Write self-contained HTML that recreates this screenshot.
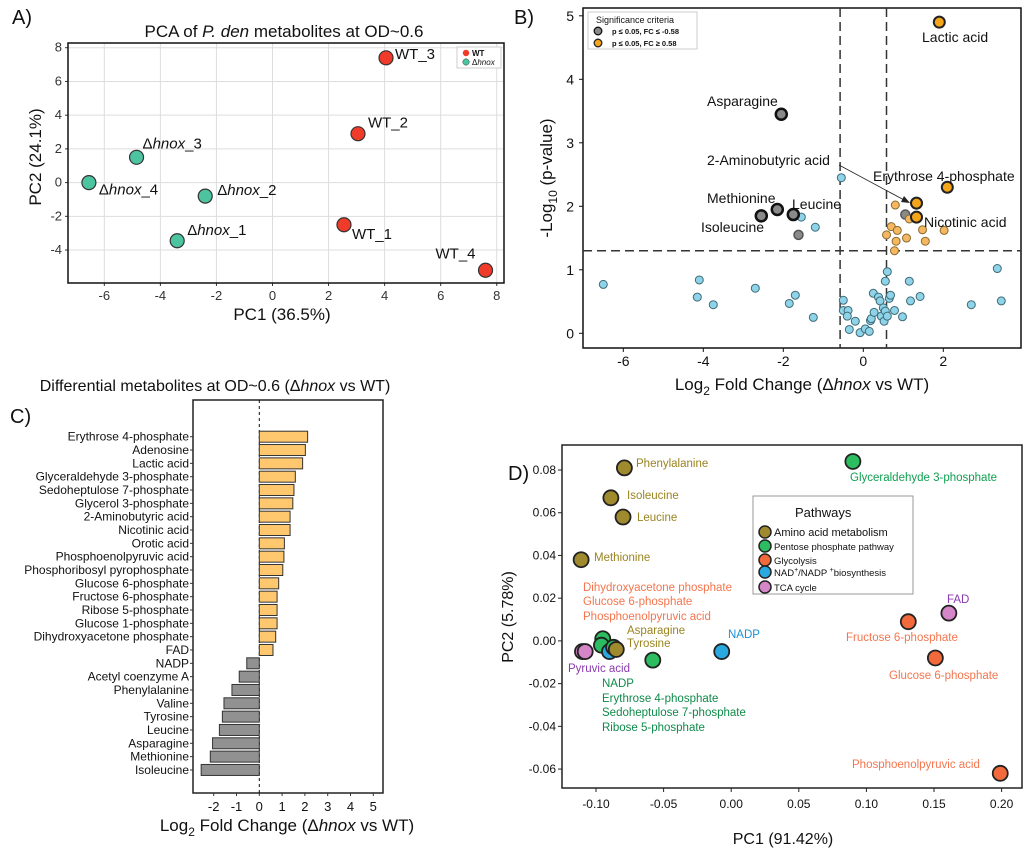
<!DOCTYPE html>
<html><head><meta charset="utf-8">
<style>
body{margin:0;background:#fff;width:1024px;height:850px;overflow:hidden;font-family:"Liberation Sans",sans-serif}
svg{position:absolute;left:0;top:0}
text{font-family:"Liberation Sans","DejaVu Sans",sans-serif}
</style></head>
<body>
<svg id="fig" width="1024" height="850" viewBox="0 0 1024 850"></svg>
<script>
// ---------- Panel A data ----------
const pcaNames=["WT_1","WT_2","WT_3","WT_4","hnox_1","hnox_2","hnox_3","hnox_4"];
const pcaPC1=[2.55,3.05,4.05,7.6,-3.4,-2.4,-4.85,-6.55];
const pcaPC2=[-2.5,2.9,7.4,-5.2,-3.45,-0.8,1.5,0];
const pcaGroup=["WT","WT","WT","WT","hnox","hnox","hnox","hnox"];
const pcaXTicks=[-6,-4,-2,0,2,4,6,8];
const pcaYTicks=[-4,-2,0,2,4,6,8];
// ---------- Panel B data ----------
const volFC=[-2.05,-2.15,-2.55,-1.75,-1.62,1.05,1.9,2.1,1.33,1.33,0.8,0.7,0.85,0.58,0.82,1.08,1.48,1.55,2.02,0.78,1.15,-0.55,-1.55,-1.2,-6.5,-4.1,-4.15,-3.75,-2.7,-1.7,-1.85,-1.25,-0.5,-0.5,-0.38,-0.4,-0.35,-0.2,-0.08,0.05,0.15,0.18,0.2,0.25,0.27,0.38,0.42,0.45,0.5,0.55,0.52,0.55,0.6,0.6,0.65,0.68,0.78,0.98,1.15,1.18,1.42,2.7,3.35,3.45];
const volP=[3.45,1.95,1.85,1.87,1.55,1.87,4.9,2.3,2.05,1.83,2.02,1.68,1.62,1.55,1.45,1.5,1.63,1.45,1.62,1.3,1.8,2.45,1.83,1.67,0.77,0.84,0.57,0.45,0.71,0.6,0.47,0.25,0.52,0.36,0.36,0.27,0.06,0.19,0.01,0.07,0.03,0.2,0.23,0.63,0.33,0.57,0.51,0.27,0.4,0.35,0.19,0.82,0.27,0.97,0.55,0.6,0.36,0.26,0.82,0.51,0.58,0.45,1.02,0.51];
const volCat=["down","down","down","down","grey","grey","up","up","up","up","upS","upS","upS","upS","upS","upS","upS","upS","upS","upS","upS"]; // rest are "ns"
const volXTicks=[-6,-4,-2,0,2];
const volYTicks=[0,1,2,3,4,5];
// ---------- Panel C data ----------
const barNames=["Erythrose 4-phosphate","Adenosine","Lactic acid","Glyceraldehyde 3-phosphate","Sedoheptulose 7-phosphate","Glycerol 3-phosphate","2-Aminobutyric acid","Nicotinic acid","Orotic acid","Phosphoenolpyruvic acid","Phosphoribosyl pyrophosphate","Glucose 6-phosphate","Fructose 6-phosphate","Ribose 5-phosphate","Glucose 1-phosphate","Dihydroxyacetone phosphate","FAD","NADP","Acetyl coenzyme A","Phenylalanine","Valine","Tyrosine","Leucine","Asparagine","Methionine","Isoleucine"];
const barValues=[2.12,2.02,1.9,1.58,1.52,1.47,1.35,1.35,1.1,1.08,1.03,0.85,0.78,0.78,0.78,0.72,0.6,-0.55,-0.88,-1.2,-1.55,-1.62,-1.75,-2.05,-2.15,-2.55];
const barXTicks=[-2,-1,0,1,2,3,4,5];
// ---------- Panel D data ----------
const dPC1=[-0.079,-0.089,-0.080,-0.111,0.090,0.131,0.161,0.151,0.199,-0.007,-0.058,-0.110,-0.108,-0.095,-0.096,-0.090,-0.087,-0.085];
const dPC2=[0.081,0.067,0.058,0.038,0.084,0.009,0.013,-0.008,-0.062,-0.005,-0.009,-0.005,-0.005,0.001,-0.002,-0.005,-0.003,-0.004];
const dPath=["aa","aa","aa","aa","ppp","gly","tca","gly","gly","nad","ppp","tca","tca","ppp","ppp","nad","ppp","aa"];
const dXTicks=[-0.10,-0.05,0.00,0.05,0.10,0.15,0.20];
const dYTicks=[-0.06,-0.04,-0.02,0.00,0.02,0.04,0.06,0.08];

const NS="http://www.w3.org/2000/svg";
const svg=document.getElementById('fig');
function mk(tag,attrs,parent){const e=document.createElementNS(NS,tag);for(const k in attrs)e.setAttribute(k,attrs[k]);(parent||svg).appendChild(e);return e;}
function txt(s,x,y,size,opts,parent){const e=mk('text',Object.assign({x:x,y:y,'font-size':size,fill:'#111'},opts||{}),parent);e.innerHTML=s;return e;}

[["A)",12,24],["B)",514,24],["C)",10,423],["D)",508,480]].forEach(l=>{
 const t=txt(l[0],l[1],l[2],20);
 
 
});

// ================= Panel A =================
(function(){
 const g=mk('g',{});
 
 
 const X=v=>272.5+v*28.03, Y=v=>182.6-v*16.86;
 const L=68,R=504,T=43,B=283;
 pcaXTicks.forEach(v=>{const l=mk('line',{x1:X(v),x2:X(v),y1:T,y2:B,stroke:'#ddd','stroke-width':1},g);
   const t=txt(v,X(v),300,13,{'text-anchor':'middle',fill:'#333'},g);
   mk('line',{x1:X(v),x2:X(v),y1:B,y2:B+3,stroke:'#333'},g);});
 pcaYTicks.forEach(v=>{const l=mk('line',{y1:Y(v),y2:Y(v),x1:L,x2:R,stroke:'#ddd','stroke-width':1},g);
   const t=txt(v,62,Y(v)+4,13,{'text-anchor':'end',fill:'#333'},g);
   mk('line',{x1:L-3,x2:L,y1:Y(v),y2:Y(v),stroke:'#333'},g);});
 const fr=mk('rect',{x:L,y:T,width:R-L,height:B-T,fill:'none',stroke:'#111','stroke-width':1.5},g);
 
 const ti=txt('PCA of <tspan font-style="italic">P. den</tspan> metabolites at OD~0.6',284,37,17,{'text-anchor':'middle'},g);
 
 const xl=txt('PC1 (36.5%)',282,320,17,{'text-anchor':'middle'},g);
 
 const yl=txt('PC2 (24.1%)',0,0,17,{'text-anchor':'middle',transform:'translate(41,157) rotate(-90)'},g);
 
 pcaNames.forEach((n,i)=>{
  const wt=pcaGroup[i]==="WT";
  const c=mk('circle',{cx:X(pcaPC1[i]),cy:Y(pcaPC2[i]),r:7,fill:wt?'#f03a2a':'#4cc4a0',stroke:'#333','stroke-width':1.2},g);
  
  let label=wt?n:'Δ<tspan font-style="italic">hnox</tspan>_'+n.split('_')[1];
  let dx=10,dy=-6;
  if(n==="WT_1"){dx=8;dy=14;} if(n==="WT_4"){dx=-50;dy=-12;} if(n==="hnox_4"){dx=10;dy=12;} if(n==="hnox_2"){dx=12;dy=-1;} if(n==="WT_3"){dx=9;dy=1;}
  if(n==="hnox_3"){dx=6;dy=-9;} if(n==="hnox_1"){dx=10;dy=-6;}
  const t=txt(label,X(pcaPC1[i])+dx,Y(pcaPC2[i])+dy,15,{},g);
  
 });
 const lg=mk('g',{},g);
 mk('rect',{x:457,y:47,width:44,height:21,fill:'#fff',stroke:'#ccc'},lg);
 mk('circle',{cx:466,cy:53,r:3.2,fill:'#f03a2a'},lg);
 mk('circle',{cx:466,cy:62,r:3.2,fill:'#4cc4a0',stroke:'#333','stroke-width':0.5},lg);
 txt('WT',472,56,8,{'font-weight':'bold'},lg);
 txt('Δ<tspan font-style="italic">hnox</tspan>',472,65,8,{},lg);
})();

// ================= Panel B =================
(function(){
 const g=mk('g',{});
 
 
 const X=v=>863.3+v*40, Y=v=>333.3-v*63.5;
 const L=583,R=1021,T=8,B=348;
 const fr=mk('rect',{x:L,y:T,width:R-L,height:B-T,fill:'#fff',stroke:'#111','stroke-width':1.5},g);
 
 volXTicks.forEach(v=>{mk('line',{x1:X(v),x2:X(v),y1:B,y2:B+4,stroke:'#111'},g);
  const t=txt(v,X(v),366,14,{'text-anchor':'middle'},g);});
 volYTicks.forEach(v=>{mk('line',{x1:L-4,x2:L,y1:Y(v),y2:Y(v),stroke:'#111'},g);
  const t=txt(v,574,Y(v)+5,14,{'text-anchor':'end'},g);});
 [[-0.58],[0.58]].forEach(v=>{const l=mk('line',{x1:X(v[0]),x2:X(v[0]),y1:T,y2:B,stroke:'#333','stroke-width':1.5,'stroke-dasharray':'9,5'},g);});
 const h=mk('line',{x1:L,x2:R,y1:Y(1.3),y2:Y(1.3),stroke:'#333','stroke-width':1.5,'stroke-dasharray':'9,5'},g);
 
 const ord=volFC.map((v,i)=>i).sort((a,b)=>{const r=c=>["down","up"].includes(volCat[c])?1:0;return r(a)-r(b);});
 ord.forEach(i=>{
  const cat=volCat[i]||"ns";
  let a={r:4,fill:'#8fd3e8',stroke:'#3d6b78','stroke-width':1};
  if(cat==="down")a={r:5.5,fill:'#8a8a8a',stroke:'#111','stroke-width':2.5};
  if(cat==="up")a={r:5.5,fill:'#f5a51a',stroke:'#222','stroke-width':2};
  if(cat==="upS")a={r:4,fill:'#f5b860',stroke:'#8a6a30','stroke-width':1};
  if(cat==="grey")a={r:4.5,fill:'#8a8a8a',stroke:'#555','stroke-width':1.5};
  const c=mk('circle',Object.assign({cx:X(volFC[i]),cy:Y(volP[i])},a),g);
  
 });
 [["Lactic acid",922,42],["Asparagine",707,106],["2-Aminobutyric acid",707,165],["Erythrose 4-phosphate",873,181],["Methionine",707,203],["Leucine",792,209],["Isoleucine",701,232],["Nicotinic acid",924,227]].forEach(a=>{
  const t=txt(a[0],a[1],a[2],14,{},g);});
 const ar=mk('line',{x1:839,y1:165,x2:906,y2:201,stroke:'#222','stroke-width':0.8},g);
 
 mk('polygon',{points:'910,203 901,202 904,196',fill:'#222'},g);
 const xl=txt('Log<tspan font-size="12" dy="5">2</tspan><tspan dy="-5"> Fold Change (Δ</tspan><tspan font-style="italic">hnox</tspan> vs WT)',802,390,17,{'text-anchor':'middle'},g);
 
 const yl=txt('-Log<tspan font-size="12" dy="5">10</tspan><tspan dy="-5"> (p-value)</tspan>',0,0,17,{'text-anchor':'middle',transform:'translate(552,178) rotate(-90)'},g);
 
 const lg=mk('g',{},g);
 mk('rect',{x:588,y:12,width:109,height:37,fill:'#fff',stroke:'#ccc'},lg);
 txt('Significance criteria',596,23,9,{},lg);
 mk('circle',{cx:598,cy:31,r:3.8,fill:'#8a8a8a',stroke:'#111','stroke-width':1.3},lg);
 mk('circle',{cx:598,cy:43,r:3.8,fill:'#f5a51a',stroke:'#222','stroke-width':1.3},lg);
 txt('p ≤ 0.05, FC ≤ -0.58',612,34,7.5,{'font-weight':'bold'},lg);
 txt('p ≤ 0.05, FC ≥ 0.58',612,46,7.5,{'font-weight':'bold'},lg);
})();

// ================= Panel C =================
(function(){
 const g=mk('g',{});
 
 
 const X=v=>259.3+v*22.8;
 const rowY=i=>436.7+i*13.33;
 const L=193,R=383,T=400,B=793;
 const fr=mk('rect',{x:L,y:T,width:R-L,height:B-T,fill:'#fff',stroke:'#222','stroke-width':1.5},g);
 
 const z=mk('line',{x1:X(0),x2:X(0),y1:T,y2:B,stroke:'#111','stroke-width':1,'stroke-dasharray':'3,3'},g);
 
 barNames.forEach((n,i)=>{
  const v=barValues[i];
  const b=mk('rect',{x:Math.min(X(0),X(v)),y:rowY(i)-5.5,width:Math.abs(X(v)-X(0)),height:11,fill:v>=0?'#ffc86e':'#919191',stroke:'#333','stroke-width':1},g);
  
  mk('line',{x1:L-3,x2:L,y1:rowY(i),y2:rowY(i),stroke:'#333'},g);
  const t=txt(n,189,rowY(i)+4,12,{'text-anchor':'end'},g);
  
 });
 barXTicks.forEach(v=>{mk('line',{x1:X(v),x2:X(v),y1:B,y2:B+3,stroke:'#333'},g);
  const t=txt(v,X(v),811,13,{'text-anchor':'middle'},g);});
 const ti=txt('Differential metabolites at OD~0.6 (Δ<tspan font-style="italic">hnox</tspan> vs WT)',215,391,16,{'text-anchor':'middle'},g);
 
 const xl=txt('Log<tspan font-size="12" dy="5">2</tspan><tspan dy="-5"> Fold Change (Δ</tspan><tspan font-style="italic">hnox</tspan> vs WT)',287,831,17,{'text-anchor':'middle'},g);
 
})();

// ================= Panel D =================
(function(){
 const g=mk('g',{});
 
 
 const X=v=>731.2+v*1352, Y=v=>640.9-v*2136;
 const L=562,R=1022,T=445,B=788;
 const fr=mk('rect',{x:L,y:T,width:R-L,height:B-T,fill:'#fff',stroke:'#222','stroke-width':1.5},g);
 
 dXTicks.forEach(v=>{mk('line',{x1:X(v),x2:X(v),y1:B,y2:B+4,stroke:'#222'},g);
  const t=txt(v.toFixed(2),X(v),808,12,{'text-anchor':'middle'},g);});
 dYTicks.forEach(v=>{mk('line',{x1:L-4,x2:L,y1:Y(v),y2:Y(v),stroke:'#222'},g);
  const t=txt(v.toFixed(2),556,Y(v)+4,12,{'text-anchor':'end'},g);});
 const col={aa:'#a08a2e',ppp:'#2bbd60',gly:'#f26a3c',nad:'#2aa8e0',tca:'#d486c8'};
 dPC1.forEach((v,i)=>{
  const c=mk('circle',{cx:X(v),cy:Y(dPC2[i]),r:7.5,fill:col[dPath[i]],stroke:'#222','stroke-width':1.8},g);
  
 });
 const G='#9a8420',GR='#10a050',O='#f4754e',B2='#1a8fd6',P='#8a3ab0',DG='#0f8a4a';
 [["Phenylalanine",636,467,G],["Isoleucine",627,499,G],["Leucine",637,521,G],["Methionine",594,561,G],
  ["Glyceraldehyde 3-phosphate",850,481,GR],["Dihydroxyacetone phosphate",583,591,O],["Glucose 6-phosphate",583,605,O],["Phosphoenolpyruvic acid",583,620,O],
  ["Asparagine",627,634,G],["Tyrosine",627,647,G],["NADP",728,638,B2],["Pyruvic acid",568,672,P],
  ["NADP",602,687,DG],["Erythrose 4-phosphate",602,702,DG],["Sedoheptulose 7-phosphate",602,716,DG],["Ribose 5-phosphate",602,731,DG],
  ["FAD",947,603,P],["Fructose 6-phosphate",846,641,O],["Glucose 6-phosphate",889,679,O],["Phosphoenolpyruvic acid",852,768,O]].forEach(a=>{
  const t=txt(a[0],a[1],a[2],11.5,{fill:a[3]},g);});
 const lg=mk('g',{},g);
 mk('rect',{x:753,y:496,width:160,height:98,fill:'#fff',stroke:'#999'},lg);
 txt('Pathways',795,517,13,{},lg);
 [["aa","Amino acid metabolism",532],["ppp","Pentose phosphate pathway",546],["gly","Glycolysis",560],["nad","NAD<tspan font-size=\"7\" dy=\"-4\">+</tspan><tspan dy=\"4\">/NADP </tspan><tspan font-size=\"7\" dy=\"-4\">+</tspan><tspan dy=\"4\">biosynthesis</tspan>",572],["tca","TCA cycle",587]].forEach(e=>{
  mk('circle',{cx:765,cy:e[2],r:6,fill:col[e[0]],stroke:'#222','stroke-width':1.5},lg);
  txt(e[1],774,e[2]+4,e[0]==="aa"?11:9.5,{},lg);
 });
 const xl=txt('PC1 (91.42%)',783,844,16,{'text-anchor':'middle'},g);
 
 const yl=txt('PC2 (5.78%)',0,0,16,{'text-anchor':'middle',transform:'translate(513,617) rotate(-90)'},g);
 
})();
</script>
</body></html>
